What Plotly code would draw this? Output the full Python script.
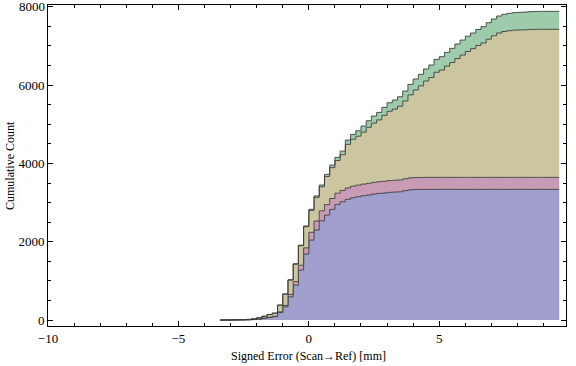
import numpy as np
import plotly.graph_objects as go

# Bin left edges (bin width 0.2 mm)
bin_left = [round(-3.4 + 0.2 * i, 1) for i in range(65)]
bin_width = 0.2

# Cumulative counts per data set
blue = [1, 2, 3, 4, 5, 7, 14, 28, 48, 70, 90, 190, 340, 596, 894, 1277, 1686, 2043, 2299, 2537,
        2682, 2827, 2955, 3022, 3082, 3125, 3150, 3176, 3193, 3218, 3235, 3244, 3261, 3269, 3277,
        3305, 3325, 3333, 3336] + [3338] * 26
pink = [0, 0, 0, 0, 0, 1, 2, 3, 5, 7, 10, 20, 35, 60, 90, 125, 160, 200, 230, 252,
        268, 278, 285, 289, 292, 294, 296, 297, 298, 299, 299, 300, 300, 301, 302,
        304, 305] + [306] * 28
olive = [2, 3, 5, 6, 7, 10, 17, 29, 46, 67, 78, 172, 290, 366, 444, 497, 538, 559, 605, 616,
         716, 788, 835, 910, 1113, 1198, 1249, 1327, 1431, 1513, 1578, 1683, 1771, 1819, 1882,
         1985, 2121, 2235, 2339, 2460, 2550, 2683, 2739, 2840, 2932, 3032, 3124, 3215, 3286, 3368,
         3432, 3527, 3616, 3686, 3724, 3746, 3759, 3764, 3768, 3776, 3779, 3780, 3780, 3780, 3780]
green = [0, 0, 0, 0, 0, 0, 0, 0, 1, 1, 2, 3, 5, 8, 12, 16, 21, 28, 36, 45,
         55, 66, 80, 95, 110, 125, 140, 155, 168, 180, 192, 205, 218, 230, 242,
         255, 268, 281, 294, 307, 319, 331, 342, 353, 363, 373, 382, 391, 400, 408,
         415, 422, 428, 434, 439, 443, 447, 450, 453, 455, 457, 459, 459, 459, 459]

x_ticks = [-10, -5, 0, 5]
y_ticks = [0, 2000, 4000, 6000, 8000]
x_title = "Signed Error (Scan\u2192Ref) [mm]"
y_title = "Cumulative Count"

fills = ["rgb(160,159,205)", "rgb(201,155,181)", "rgb(203,198,160)", "rgb(157,203,171)"]
edge = "rgba(55,55,55,0.85)"

x = list(bin_left) + [bin_left[-1] + bin_width]
layers = [blue, pink, olive, green]
stack = np.cumsum(np.array(layers, dtype=float), axis=0)

fig = go.Figure()
for i, vals in enumerate(stack):
    y = list(vals) + [vals[-1]]
    fig.add_trace(go.Scatter(
        x=x, y=y, mode="lines", line=dict(shape="hv", color=edge, width=1),
        fill="tozeroy" if i == 0 else "tonexty", fillcolor=fills[i],
        showlegend=False, hoverinfo="skip"))

fam = "Liberation Serif, DejaVu Serif, serif"
font = dict(family=fam, size=12, color="black")
tfont = dict(family=fam, size=13, color="black")
L, R, T, B = 48, 10, 5, 40
pw, ph = 576 - L - R, 366 - T - B

# the topmost y tick label is dropped by plotly at the page edge; draw it as text
annotations = [
    dict(text=x_title, xref="paper", yref="paper",
         x=(308 - L) / pw, y=-(356 - (T + ph)) / ph,
         xanchor="center", yanchor="middle", showarrow=False, font=font),
    dict(text=y_title, xref="paper", yref="paper",
         x=(10 - L) / pw, y=(T + ph - 166) / ph, textangle=-90,
         xanchor="center", yanchor="middle", showarrow=False, font=font),
    dict(text=str(y_ticks[-1]), xref="paper", yref="y", x=0, y=y_ticks[-1],
         xanchor="right", yanchor="middle", xshift=-1, showarrow=False, font=tfont),
]

fig.update_layout(
    width=576, height=366,
    margin=dict(l=L, r=R, t=T, b=B, autoexpand=False),
    paper_bgcolor="white", plot_bgcolor="white",
    font=font,
    xaxis=dict(range=[-10, 9.86], tickmode="array", tickvals=x_ticks,
               ticks="inside", ticklen=5, tickwidth=1, tickcolor="black",
               minor=dict(ticks="inside", ticklen=3, dtick=1, tick0=0, tickcolor="black"),
               showline=True, linecolor="black", linewidth=1, mirror="ticks",
               showgrid=False, zeroline=False, tickfont=tfont, automargin=False),
    yaxis=dict(range=[-150, 8045], tickmode="array", tickvals=y_ticks,
               ticktext=[str(v) for v in y_ticks[:-1]] + [""],
               ticks="inside", ticklen=5, tickwidth=1, tickcolor="black",
               minor=dict(ticks="inside", ticklen=3, dtick=500, tick0=0, tickcolor="black"),
               showline=True, linecolor="black", linewidth=1, mirror="ticks",
               showgrid=False, zeroline=False, tickfont=tfont, automargin=False),
    annotations=annotations,
)

fig.write_html("out.html", config={"displayModeBar": False},
               post_script="document.body.style.margin='0';document.body.style.overflow='hidden';")
